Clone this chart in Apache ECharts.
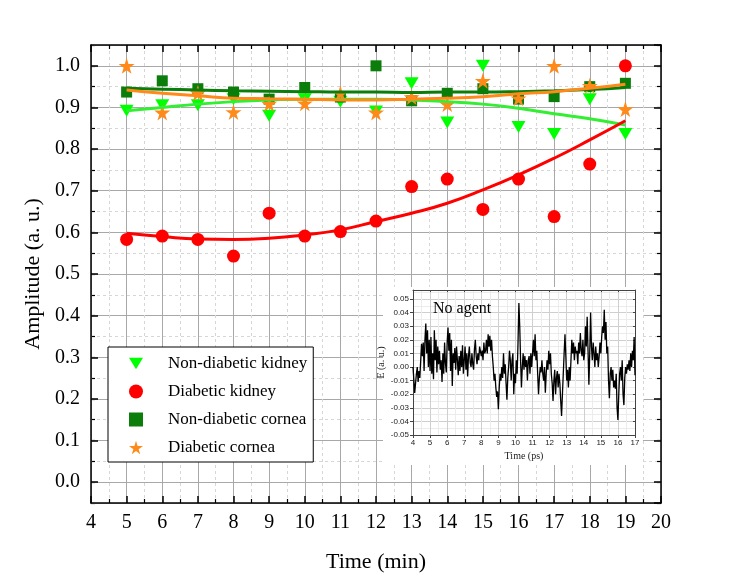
<!DOCTYPE html>
<html>
<head>
<meta charset="utf-8">
<script src="https://cdn.jsdelivr.net/npm/echarts@6/dist/echarts.min.js"></script>
<style>
  html, body { margin: 0; padding: 0; background: #fff; }
  #chart { width: 729px; height: 584px; }
</style>
</head>
<body>
<div id="chart"></div>
<script>
// measured points (time in min)
var times = [5, 6, 7, 8, 9, 10, 11, 12, 13, 14, 15, 16, 17, 18, 19];
var nonDiabeticKidney = [0.892, 0.905, 0.905, 0.92, 0.88, 0.92, 0.914, 0.89, 0.958, 0.864, 1.0, 0.853, 0.836, 0.92, 0.836];
var diabeticKidney = [0.583, 0.591, 0.583, 0.543, 0.646, 0.591, 0.602, 0.627, 0.71, 0.728, 0.655, 0.728, 0.638, 0.764, 1.0];
var nonDiabeticCornea = [0.937, 0.964, 0.945, 0.937, 0.92, 0.948, 0.925, 1.0, 0.916, 0.934, 0.945, 0.92, 0.926, 0.95, 0.958];
var diabeticCornea = [1.0, 0.888, 0.935, 0.889, 0.909, 0.91, 0.934, 0.888, 0.925, 0.908, 0.964, 0.922, 1.0, 0.952, 0.896];

// fitted curves at each minute
var fitNonDiabeticKidney = [0.892, 0.9, 0.908, 0.914, 0.918, 0.92, 0.92, 0.92, 0.918, 0.914, 0.908, 0.898, 0.885, 0.873, 0.858];
var fitDiabeticKidney = [0.598, 0.59, 0.584, 0.583, 0.586, 0.594, 0.606, 0.626, 0.646, 0.67, 0.702, 0.738, 0.778, 0.822, 0.868];
var fitNonDiabeticCornea = [0.946, 0.944, 0.942, 0.94, 0.939, 0.938, 0.937, 0.937, 0.936, 0.937, 0.937, 0.938, 0.94, 0.943, 0.948];
var fitDiabeticCornea = [0.942, 0.934, 0.928, 0.922, 0.921, 0.92, 0.918, 0.918, 0.92, 0.922, 0.926, 0.933, 0.938, 0.946, 0.956];

var xTicks = [4, 5, 6, 7, 8, 9, 10, 11, 12, 13, 14, 15, 16, 17, 18, 19, 20];

// inset: E field vs time (ps), no agent
var insetSignal = [
  [4.0, 0.0], [4.1, -0.019], [4.15, -0.012], [4.2, -0.005], [4.25, 0.0], [4.3, -0.011], [4.35, -0.003], [4.4, -0.008],
  [4.5, 0.017], [4.55, 0.008], [4.6, 0.018], [4.65, -0.003], [4.7, 0.02], [4.75, 0.032], [4.8, 0.01], [4.85, 0.027],
  [4.9, 0.0], [4.95, 0.02], [5.0, -0.003], [5.05, 0.022], [5.1, -0.005], [5.15, 0.01], [5.2, -0.009], [5.25, 0.027],
  [5.3, 0.005], [5.35, 0.02], [5.4, -0.004], [5.45, 0.015], [5.5, 0.002], [5.55, 0.012], [5.6, -0.002], [5.65, 0.005],
  [5.7, -0.011], [5.75, 0.01], [5.8, -0.005], [5.85, 0.018], [5.9, 0.003], [5.95, -0.004], [6.0, 0.018], [6.05, 0.029],
  [6.1, 0.012], [6.15, 0.025], [6.2, -0.003], [6.25, 0.02], [6.3, -0.014], [6.35, 0.01], [6.4, 0.003], [6.45, 0.014],
  [6.5, -0.002], [6.55, 0.015], [6.6, 0.005], [6.65, -0.006], [6.7, 0.008], [6.75, -0.003], [6.8, 0.012], [6.85, 0.0],
  [6.9, 0.016], [6.95, -0.005], [7.0, 0.005], [7.05, 0.015], [7.1, -0.002], [7.15, 0.01], [7.2, -0.007], [7.25, 0.008],
  [7.3, 0.015], [7.35, 0.003], [7.4, 0.0], [7.45, 0.01], [7.5, 0.002], [7.55, -0.002], [7.6, 0.013], [7.65, 0.02],
  [7.7, 0.008], [7.75, 0.002], [7.8, 0.01], [7.85, 0.005], [7.9, 0.015], [8.0, 0.008], [8.05, 0.012], [8.1, 0.005],
  [8.15, 0.018], [8.2, 0.01], [8.25, 0.012], [8.3, 0.02], [8.35, 0.01], [8.4, 0.024], [8.45, 0.015], [8.5, 0.023],
  [8.55, 0.012], [8.6, 0.02], [8.65, 0.008], [8.7, 0.0], [8.75, -0.01], [8.8, -0.005], [8.85, -0.015], [8.9, -0.022],
  [8.95, -0.018], [9.0, -0.031], [9.05, -0.015], [9.1, -0.005], [9.15, -0.01], [9.2, 0.0], [9.25, -0.008], [9.3, 0.01],
  [9.35, -0.005], [9.4, 0.002], [9.45, -0.012], [9.5, -0.024], [9.55, -0.008], [9.6, 0.0], [9.65, 0.012], [9.7, 0.005],
  [9.75, -0.01], [9.8, 0.005], [9.85, 0.01], [9.9, -0.02], [9.95, -0.005], [10.0, -0.012], [10.05, 0.005], [10.1, -0.005],
  [10.15, 0.018], [10.2, 0.047], [10.25, 0.03], [10.3, 0.005], [10.35, -0.015], [10.4, 0.0], [10.45, 0.01], [10.5, -0.002],
  [10.55, 0.008], [10.6, 0.0], [10.65, 0.005], [10.7, -0.01], [10.75, 0.005], [10.8, 0.008], [10.85, -0.005], [10.9, 0.01],
  [10.95, 0.0], [11.0, 0.01], [11.05, 0.02], [11.1, 0.008], [11.15, 0.024], [11.2, 0.005], [11.25, 0.012], [11.3, -0.005],
  [11.35, -0.02], [11.4, -0.008], [11.45, 0.0], [11.5, -0.004], [11.55, 0.005], [11.6, -0.005], [11.65, -0.01], [11.7, 0.0],
  [11.75, -0.019], [11.8, -0.005], [11.85, 0.005], [11.9, -0.002], [11.95, 0.012], [12.0, 0.002], [12.05, 0.01], [12.1, -0.005],
  [12.15, -0.012], [12.2, -0.025], [12.25, -0.01], [12.3, -0.002], [12.35, -0.02], [12.4, -0.008], [12.45, -0.003], [12.5, -0.015],
  [12.55, -0.005], [12.6, -0.012], [12.65, -0.025], [12.7, -0.036], [12.75, -0.02], [12.8, -0.005], [12.85, 0.01], [12.9, 0.024],
  [12.95, 0.008], [13.0, -0.01], [13.05, -0.002], [13.1, -0.015], [13.15, 0.0], [13.2, -0.01], [13.25, 0.005], [13.3, 0.02],
  [13.35, 0.01], [13.4, 0.018], [13.45, 0.005], [13.5, 0.015], [13.55, 0.01], [13.6, 0.012], [13.65, 0.002], [13.7, 0.018],
  [13.75, 0.01], [13.8, 0.025], [13.85, 0.012], [13.9, 0.008], [13.95, 0.02], [14.0, 0.005], [14.05, 0.01], [14.1, 0.03],
  [14.15, 0.015], [14.2, 0.037], [14.25, 0.012], [14.3, -0.013], [14.35, 0.01], [14.4, 0.04], [14.45, 0.015], [14.5, 0.005],
  [14.55, 0.018], [14.6, 0.01], [14.65, 0.0], [14.7, 0.015], [14.75, 0.005], [14.8, 0.01], [14.85, 0.0], [14.9, 0.008],
  [14.95, 0.018], [15.0, 0.01], [15.05, 0.022], [15.1, 0.03], [15.15, 0.025], [15.2, 0.042], [15.25, 0.02], [15.3, 0.033],
  [15.35, 0.01], [15.4, 0.015], [15.45, -0.01], [15.5, -0.023], [15.55, -0.005], [15.6, 0.0], [15.65, -0.01], [15.7, -0.002],
  [15.75, -0.015], [15.8, -0.01], [15.85, -0.016], [15.9, -0.005], [15.95, -0.03], [16.0, -0.039], [16.05, -0.02], [16.1, -0.005],
  [16.15, 0.0], [16.2, -0.01], [16.25, 0.005], [16.3, -0.02], [16.35, -0.028], [16.4, -0.008], [16.45, 0.0], [16.5, -0.005],
  [16.55, 0.002], [16.6, -0.002], [16.65, 0.005], [16.7, -0.003], [16.75, 0.01], [16.8, 0.0], [16.85, 0.012], [16.9, 0.005],
  [16.95, 0.022], [17.0, -0.006]
];

var serif = '"Liberation Serif", "Times New Roman", serif';
var sans = '"Liberation Sans", Arial, sans-serif';
var triangleDown = 'path://M0,0 L12,0 L6,10 Z';
var star = 'path://M50,0 L61,35 L98,35 L68,57 L79,91 L50,70 L21,91 L32,57 L2,35 L39,35 Z';

function pairs(xs, ys) {
  return xs.map(function (x, i) { return [x, ys[i]]; });
}

var chart = echarts.init(document.getElementById('chart'));

var frameLine = { show: true, onZero: false, lineStyle: { color: '#000', width: 1.5 } };
var insetLine = { show: true, onZero: false, lineStyle: { color: '#444', width: 1 } };

chart.setOption({
  animation: false,
  backgroundColor: '#fff',
  grid: [
    { left: 91, right: 68, top: 45, bottom: 81 },
    { left: 413, right: 94, top: 290, bottom: 149 }
  ],
  legend: {
    data: ['Non-diabetic kidney', 'Diabetic kidney', 'Non-diabetic cornea', 'Diabetic cornea'],
    orient: 'vertical',
    left: 108,
    top: 347,
    itemWidth: 14,
    itemHeight: 14,
    itemGap: 11,
    padding: [8, 6, 6, 21],
    backgroundColor: '#fff',
    borderColor: '#000',
    borderWidth: 1,
    borderRadius: 0,
    textStyle: { fontFamily: serif, fontSize: 17, color: '#000', padding: [0, 0, 0, 20] }
  },
  xAxis: [
    {
      gridIndex: 0, type: 'value', position: 'bottom', min: 4, max: 20, interval: 1,
      name: 'Time (min)', nameLocation: 'middle', nameGap: 48,
      nameTextStyle: { fontFamily: serif, fontSize: 22, color: '#000' },
      axisLine: frameLine,
      axisTick: { show: true, inside: true, length: 7, lineStyle: { color: '#000', width: 1.5 } },
      minorTick: { show: true, splitNumber: 2, length: 4, lineStyle: { color: '#000', width: 1.2 } },
      axisLabel: { fontFamily: serif, fontSize: 20, color: '#000', margin: 10,
        formatter: function (v) { return xTicks.indexOf(v) >= 0 ? String(v) : ''; } },
      splitLine: { show: true, lineStyle: { color: '#a8a8a8', width: 1 } },
      minorSplitLine: { show: true, lineStyle: { color: '#d6d6d6', width: 1, type: [3, 3] } },
      z: 1
    },
    {
      gridIndex: 0, type: 'value', position: 'top', min: 4, max: 20, interval: 1,
      axisLine: frameLine,
      axisTick: { show: true, inside: true, length: 7, lineStyle: { color: '#000', width: 1.5 } },
      minorTick: { show: true, splitNumber: 2, length: 4, lineStyle: { color: '#000', width: 1.2 } },
      axisLabel: { show: false },
      splitLine: { show: false },
      z: 1
    },
    {
      gridIndex: 1, type: 'value', position: 'bottom', min: 4, max: 17, interval: 1,
      name: 'Time (ps)', nameLocation: 'middle', nameGap: 16,
      nameTextStyle: { fontFamily: serif, fontSize: 10, color: '#222' },
      axisLine: insetLine,
      axisTick: { show: true, length: 3, lineStyle: { color: '#444' } },
      axisLabel: { fontFamily: sans, fontSize: 8, color: '#222', margin: 4 },
      splitLine: { show: true, lineStyle: { color: '#cfcfcf', width: 1 } },
      minorSplitLine: { show: true, lineStyle: { color: '#ececec', width: 1 } },
      minorTick: { show: false, splitNumber: 2 },
      z: 15
    },
    {
      gridIndex: 1, type: 'value', position: 'top', min: 4, max: 17, interval: 1,
      axisLine: insetLine,
      axisTick: { show: true, inside: true, length: 2, lineStyle: { color: '#444' } },
      axisLabel: { show: false },
      splitLine: { show: false },
      z: 15
    }
  ],
  yAxis: [
    {
      gridIndex: 0, type: 'value', position: 'left', min: -0.05, max: 1.05, splitNumber: 11,
      name: 'Amplitude (a. u.)', nameLocation: 'middle', nameGap: 44,
      nameTextStyle: { fontFamily: serif, fontSize: 22, color: '#000' },
      axisLine: frameLine,
      axisTick: { show: true, inside: true, length: 7, lineStyle: { color: '#000', width: 1.5 } },
      axisLabel: { fontFamily: serif, fontSize: 20, color: '#000', margin: 11,
        showMinLabel: false, showMaxLabel: false,
        formatter: function (v) { return v.toFixed(1); } },
      splitLine: { show: true, lineStyle: { color: '#a8a8a8', width: 1 } },
      z: 1
    },
    {
      gridIndex: 0, type: 'value', position: 'right', min: -0.05, max: 1.05, splitNumber: 11,
      axisLine: frameLine,
      axisTick: { show: true, inside: true, length: 7, lineStyle: { color: '#000', width: 1.5 } },
      axisLabel: { show: false },
      splitLine: { show: false },
      z: 1
    },
    {
      // minor grid / minor ticks every 0.05 on the left
      gridIndex: 0, type: 'value', position: 'left', min: -0.05, max: 1.05, interval: 0.05,
      axisLine: { show: false },
      axisTick: { show: true, inside: true, length: 4, lineStyle: { color: '#000', width: 1.2 } },
      axisLabel: { show: false },
      splitLine: { show: true, lineStyle: { color: '#d6d6d6', width: 1, type: [3, 3] } },
      z: 0
    },
    {
      gridIndex: 0, type: 'value', position: 'right', min: -0.05, max: 1.05, interval: 0.05,
      axisLine: { show: false },
      axisTick: { show: true, inside: true, length: 4, lineStyle: { color: '#000', width: 1.2 } },
      axisLabel: { show: false },
      splitLine: { show: false },
      z: 0
    },
    {
      gridIndex: 1, type: 'value', position: 'left', min: -0.05, max: 0.0566, interval: 0.01,
      name: 'E (a. u.)', nameLocation: 'middle', nameGap: 24,
      nameTextStyle: { fontFamily: serif, fontSize: 10, color: '#222' },
      axisLine: insetLine,
      axisTick: { show: true, length: 3, lineStyle: { color: '#444' } },
      axisLabel: { fontFamily: sans, fontSize: 8, color: '#222', margin: 4, showMaxLabel: false,
        formatter: function (v) { return v.toFixed(2); } },
      splitLine: { show: true, lineStyle: { color: '#cfcfcf', width: 1 } },
      minorSplitLine: { show: true, lineStyle: { color: '#ececec', width: 1 } },
      minorTick: { show: false, splitNumber: 2 },
      z: 15
    },
    {
      gridIndex: 1, type: 'value', position: 'right', min: -0.05, max: 0.0566, interval: 0.01,
      axisLine: insetLine,
      axisTick: { show: true, inside: true, length: 2, lineStyle: { color: '#444' } },
      axisLabel: { show: false },
      splitLine: { show: false },
      z: 15
    }
  ],
  graphic: [
    { type: 'rect', shape: { x: 383, y: 287, width: 260, height: 178 }, style: { fill: '#fff' }, z: 10, silent: true },
    { type: 'text', x: 433, y: 309, z: 20,
      style: { text: 'No agent', font: '16px ' + serif, fill: '#000', verticalAlign: 'middle' } }
  ],
  series: [
    {
      name: 'Non-diabetic kidney', type: 'scatter', xAxisIndex: 0, yAxisIndex: 0,
      symbol: triangleDown, symbolSize: [14, 12],
      itemStyle: { color: '#00ff00', opacity: 1 }, data: pairs(times, nonDiabeticKidney), z: 3
    },
    {
      name: 'Diabetic kidney', type: 'scatter', xAxisIndex: 0, yAxisIndex: 0,
      symbol: 'circle', symbolSize: 13,
      itemStyle: { color: '#ff0000', opacity: 1 }, data: pairs(times, diabeticKidney), z: 3
    },
    {
      name: 'Non-diabetic cornea', type: 'scatter', xAxisIndex: 0, yAxisIndex: 0,
      symbol: 'rect', symbolSize: 11,
      itemStyle: { color: '#0a7d0a', opacity: 1 }, data: pairs(times, nonDiabeticCornea), z: 3
    },
    {
      name: 'Diabetic cornea', type: 'scatter', xAxisIndex: 0, yAxisIndex: 0,
      symbol: star, symbolSize: 16,
      itemStyle: { color: '#ff8a1a', opacity: 1 }, data: pairs(times, diabeticCornea), z: 3
    },
    {
      name: 'fit1', type: 'line', xAxisIndex: 0, yAxisIndex: 0, smooth: true, showSymbol: false,
      lineStyle: { color: '#33ee33', width: 3 }, data: pairs(times, fitNonDiabeticKidney), z: 4
    },
    {
      name: 'fit2', type: 'line', xAxisIndex: 0, yAxisIndex: 0, smooth: true, showSymbol: false,
      lineStyle: { color: '#ff0000', width: 3 }, data: pairs(times, fitDiabeticKidney), z: 4
    },
    {
      name: 'fit3', type: 'line', xAxisIndex: 0, yAxisIndex: 0, smooth: true, showSymbol: false,
      lineStyle: { color: '#0a7d0a', width: 3 }, data: pairs(times, fitNonDiabeticCornea), z: 4
    },
    {
      name: 'fit4', type: 'line', xAxisIndex: 0, yAxisIndex: 0, smooth: true, showSymbol: false,
      lineStyle: { color: '#ff8a1a', width: 3 }, data: pairs(times, fitDiabeticCornea), z: 4
    },
    {
      name: 'inset', type: 'line', xAxisIndex: 2, yAxisIndex: 4, showSymbol: false,
      lineStyle: { color: '#000', width: 1.3 }, data: insetSignal, z: 16
    }
  ]
});
</script>
</body>
</html>
